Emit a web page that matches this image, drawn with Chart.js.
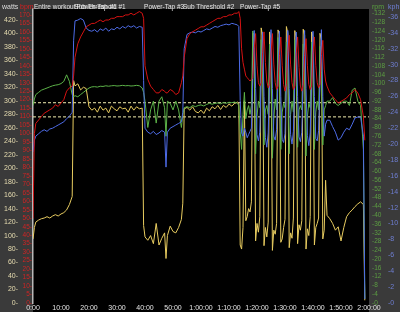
<!DOCTYPE html>
<html>
<head>
<meta charset="utf-8">
<script src="https://cdn.jsdelivr.net/npm/chart.js@4.4.1/dist/chart.umd.min.js"></script>
<style>
  html, body { margin: 0; padding: 0; background: #3a3a3a; }
  #wrap { width: 400px; height: 312px; }
</style>
</head>
<body>
<div id="wrap"><canvas id="ride" width="400" height="312"></canvas></div>
<script>
// time in minutes (finer steps around the efforts and the 1-on / 2-off block)
var minutes = [
  0, 0.5, 1, 2, 3, 4, 5, 6, 7, 8, 9, 10, 11, 12, 13, 14, 14.5,
  15, 16, 17, 18, 19, 20, 21, 22, 23, 24, 25, 26, 27, 28, 29, 30, 31, 32, 33, 34, 35, 36, 37, 38, 39, 39.5,
  40, 41, 42, 43, 44, 45, 46, 47, 47.5, 48, 49, 50, 51, 52, 53, 53.5,
  54, 55, 56, 57, 58, 59, 60, 61, 62, 63, 64, 65, 66, 67, 68, 69, 70, 71, 72, 73, 73.5,
  74, 74.5, 75, 75.5, 76, 76.5, 77, 77.5, 78,
  78.5, 79, 79.5, 80, 80.5, 81,
  81.5, 82, 82.5, 83, 83.5, 84,
  84.5, 85, 85.5, 86, 86.5, 87,
  87.5, 88, 88.5, 89, 89.5, 90,
  90.5, 91, 91.5, 92, 92.5, 93,
  93.5, 94, 94.5, 95, 95.5, 96,
  96.5, 97, 97.5, 98, 98.5, 99,
  99.5, 100, 100.5, 101, 101.5, 102,
  102.5, 103, 103.5, 104, 104.5, 105,
  106, 107, 108, 109, 110, 111, 112, 113, 114, 115, 116, 117, 118, 118.5
];

var watts = [
  95, 112, 120, 123, 125, 126, 128, 126, 129, 131, 129, 132, 134, 138, 146, 158, 330,
  322, 325, 316, 320, 318, 291, 286, 289, 283, 292, 286, 289, 282, 292, 288, 285, 291, 288, 289, 283, 292, 286, 291, 288, 289, 115,
  98, 93, 100, 88, 118, 86, 96, 104, 66, 100, 114, 106, 104, 112, 124, 148,
  288, 290, 286, 291, 284, 282, 286, 281, 289, 285, 291, 288, 293, 287, 293, 290, 295, 292, 296, 298, 296,
  86, 80, 112, 300, 122, 128, 140, 135, 150,
  400, 398, 92, 118, 105, 128,
  408, 396, 85, 112, 98, 120,
  402, 392, 78, 108, 102, 118,
  405, 398, 90, 95, 112, 124,
  410, 400, 82, 104, 96, 126,
  404, 394, 88, 116, 108, 122,
  406, 397, 80, 110, 100, 128,
  402, 395, 86, 112, 118, 126,
  400, 390, 95, 108, 182, 130,
  125, 118, 108, 113, 92, 112, 128, 134, 138, 143, 147, 150, 146, 4
];

var bpm = [
  50, 100, 106, 108, 110, 112, 113, 114, 115, 117, 116, 118, 120, 125, 127, 128, 134,
  145, 153, 157, 160, 163, 164, 165, 165, 166, 167, 166, 167, 167, 168, 168, 169, 169, 169, 170, 170, 171, 170, 171, 172, 171, 168,
  140, 132, 128, 126, 124, 124, 126, 125, 124, 124, 126, 125, 123, 124, 130, 134,
  145, 156, 159, 160, 161, 162, 163, 163, 164, 165, 166, 167, 168, 168, 169, 169, 170, 170, 171, 171, 172,
  168, 150, 142, 138, 134, 133, 132, 131, 132,
  133, 150, 159, 140, 130, 128,
  130, 148, 160, 142, 131, 127,
  129, 147, 159, 141, 130, 126,
  128, 146, 157, 140, 129, 125,
  129, 148, 158, 141, 130, 126,
  128, 147, 157, 139, 128, 125,
  129, 146, 156, 140, 129, 126,
  128, 147, 157, 140, 130, 127,
  129, 146, 155, 138, 131, 128,
  124, 122, 120, 118, 119, 120, 121, 123, 124, 126, 124, 120, 110, 96
];

var kph = [
  19, 20.5, 21, 21.3, 21.6, 21.8, 21.6, 21.9, 22, 22.2, 22.4, 22.6, 22.8, 23.2, 23.5, 24, 33,
  35.5, 35.6, 35.8, 35.6, 34.6, 34.3, 34.2, 34.4, 34.1, 34.5, 34.3, 34.6, 34.2, 34.5, 34.4, 34.7, 34.5, 34.8, 34.6, 34.9, 34.7, 34.9, 34.6, 34.8, 34.7, 28,
  22, 21.5, 21.3, 21.6, 21.2, 21.4, 21.7, 21.5, 17.1, 21.5, 22, 22.2, 22.4, 22.6, 22.8, 24,
  32, 33.8, 34, 34.1, 34, 34.2, 34.1, 34.3, 34.5, 34.4, 34.6, 34.8, 34.7, 34.9, 35, 35.1, 35, 35.2, 35.1, 35, 34.8,
  25.5, 21.4, 21, 22, 21.5, 20.8, 21.2, 21.6, 22,
  28, 34.3, 27, 21.2, 20.4, 21.5,
  29, 34.1, 26, 20.8, 19.6, 21.4,
  28, 34.4, 27, 21, 20.5, 21.8,
  29, 34.2, 26, 20.6, 20.2, 21.3,
  28, 34.3, 27, 21.2, 20, 21.6,
  28, 34.1, 26, 20.9, 20.3, 21.5,
  29, 34.3, 27, 21.1, 19.8, 21.4,
  28, 34.2, 26, 20.7, 20.4, 21.7,
  28, 34.4, 26, 21, 22.5, 23,
  23, 22.2, 21.5, 20.5, 20.8, 21.5, 22, 21.8, 22.5, 23.3, 23.4, 23.4, 21, 0.5
];

var rpm = [
  90, 93, 95, 96, 97, 97.5, 98, 98.5, 99, 99.3, 99.5, 100, 101, 104, 101, 95, 94,
  94.5, 94, 95, 96, 97, 98, 98.5, 98.6, 98.4, 98.8, 98.7, 99, 98.8, 99, 99.1, 98.9, 99, 99.2, 99, 99.1, 98.9, 99, 99.2, 99, 98, 96,
  92, 80, 88, 92, 82, 92, 94, 89, 76, 92, 91, 88, 92, 88, 80, 86,
  89, 89.5, 89, 90, 89.5, 90, 90.3, 89.8, 90.5, 91, 90.6, 91, 91.2, 90.8, 91.4, 91, 91.5, 91.3, 91.6, 91, 90,
  78, 70, 86, 96, 84, 88, 90, 86, 90,
  124, 112, 68, 85, 92, 89,
  120, 108, 72, 88, 90, 86,
  118, 110, 66, 84, 93, 88,
  121, 107, 70, 87, 91, 89,
  119, 109, 68, 86, 92, 87,
  120, 108, 71, 88, 90, 88,
  118, 110, 67, 85, 91, 89,
  119, 106, 70, 87, 92, 88,
  117, 105, 72, 88, 90, 92,
  92, 93.6, 91, 90, 91, 92, 92, 90, 97, 98, 92, 90, 70, 2
];

// dashed reference lines (watts)
var refWatts = [297, 276];

// interval markers along the top
var intervalNames = ['Entire workout', 'Sub Threshold #1', 'Power-Tap #1', 'Power-Tap #3', 'Sub Threshold #2', 'Power-Tap #5'];
var intervalStarts = [0, 14.4, 15.2, 39.3, 53.2, 73.6];

// tick labels
var timeTicks = [0, 10, 20, 30, 40, 50, 60, 70, 80, 90, 100, 110, 120];
var timeLabels = ['0:00', '10:00', '20:00', '30:00', '40:00', '50:00', '1:00:00', '1:10:00', '1:20:00', '1:30:00', '1:40:00', '1:50:00', '2:00:00'];
var wattsTicks = [0, 20, 40, 60, 80, 100, 120, 140, 160, 180, 200, 220, 240, 260, 280, 300, 320, 340, 360, 380, 400, 420];
var bpmTicks = [0, 5, 10, 15, 20, 25, 30, 35, 40, 45, 50, 55, 60, 65, 70, 75, 80, 85, 90, 95, 100, 105, 110, 115, 120, 125, 130, 135, 140, 145, 150, 155, 160, 165, 170];
var rpmTicks = [0, 4, 8, 12, 16, 20, 24, 28, 32, 36, 40, 44, 48, 52, 56, 60, 64, 68, 72, 76, 80, 84, 88, 92, 96, 100, 104, 108, 112, 116, 120, 124, 128, 132];
var kphTicks = [0, 2, 4, 6, 8, 10, 12, 14, 16, 18, 20, 22, 24, 26, 28, 30, 32, 34, 36];

var FONT = '"Liberation Sans", Arial, sans-serif';

function pts(arr) {
  return minutes.map(function (t, i) { return { x: t, y: arr[i] }; });
}
function flat(v) {
  return [{ x: 0, y: v }, { x: 120, y: v }];
}
function setTicks(list) {
  return function (s) { s.ticks = list.map(function (v) { return { value: v }; }); };
}

var panels = {
  id: 'panels',
  beforeDraw: function (chart) {
    var c = chart.ctx, a = chart.chartArea;
    c.save();
    c.fillStyle = '#3a3a3a';
    c.fillRect(0, 0, chart.width, chart.height);
    c.fillStyle = '#000';
    c.fillRect(a.left, a.top, a.right - a.left, chart.height - a.top);
    c.restore();
  },
  afterDraw: function (chart) {
    var c = chart.ctx, xs = chart.scales.x;
    c.save();
    c.font = '6.5px ' + FONT;
    c.textBaseline = 'alphabetic';
    c.textAlign = 'left';
    c.fillStyle = '#e8e8e8';
    intervalNames.forEach(function (n, i) {
      c.fillText(n, xs.getPixelForValue(intervalStarts[i]) + 1, 8.5);
    });
    c.font = '7px ' + FONT;
    c.fillStyle = '#dddddd'; c.fillText('watts', 2, 8.5);
    c.fillStyle = '#d42020'; c.fillText('bpm', 20, 8.5);
    c.fillStyle = '#5aa040'; c.fillText('rpm', 372, 8.5);
    c.fillStyle = '#6f7fd6'; c.fillText('kph', 388, 8.5);
    c.restore();
  }
};

function yAxis(pos, weight, max, ticks, color, width, fmt, pad, size) {
  return {
    position: pos, weight: weight, min: 0, max: max,
    afterBuildTicks: setTicks(ticks),
    afterFit: function (s) { s.width = width; },
    grid: { display: false, drawTicks: false },
    border: { display: false },
    ticks: { color: color, autoSkip: false, padding: pad, font: { size: size, family: FONT }, callback: fmt }
  };
}

var scales = {
  x: {
    type: 'linear', min: 0, max: 120,
    afterBuildTicks: setTicks(timeTicks),
    afterFit: function (s) { s.height = 9; },
    grid: { display: false, drawTicks: false },
    border: { display: false },
    ticks: {
      color: '#e4e4e4', autoSkip: false, maxRotation: 0, padding: 1,
      font: { size: 7, family: FONT },
      callback: function (v, i) { return timeLabels[i]; }
    }
  },
  watts: yAxis('left', 2, 436, wattsTicks, '#e6dcb0', 20, function (v) { return v + '-'; }, 2, 7),
  bpm: yAxis('left', 1, 173.5, bpmTicks, '#d02424', 13, function (v) { return v + '-'; }, 1, 6.5),
  rpm: yAxis('right', 1, 134, rpmTicks, '#5c9e42', 16, function (v) { return '-' + v; }, 3, 6.5),
  kph: yAxis('right', 2, 37, kphTicks, '#6e7ed2', 15, function (v) { return '-' + v; }, 3, 7)
};
scales.bpm.border = { display: true, color: '#b8b8b8', width: 1.5 };

function line(label, data, axis, color, order) {
  return { label: label, data: data, yAxisID: axis, borderColor: color, borderWidth: 1,
           pointRadius: 0, tension: 0, fill: false, order: order };
}

var datasets = [
  line('bpm', pts(bpm), 'bpm', 'rgb(214,18,18)', 0),
  line('kph', pts(kph), 'kph', 'rgb(78,108,232)', 1),
  line('rpm', pts(rpm), 'rpm', 'rgb(92,178,72)', 2),
  line('watts', pts(watts), 'watts', 'rgb(232,204,96)', 3)
];
refWatts.forEach(function (v) {
  var d = line('ref', flat(v), 'watts', '#f2eeb0', 4);
  d.borderDash = [3, 2];
  datasets.push(d);
});

var ride = new Chart(document.getElementById('ride').getContext('2d'), {
  type: 'line',
  data: { datasets: datasets },
  options: {
    responsive: false,
    animation: false,
    layout: { padding: { top: 9, left: 0, right: 0, bottom: 0 } },
    plugins: { legend: { display: false }, tooltip: { enabled: false } },
    scales: scales
  },
  plugins: [panels]
});
</script>
</body>
</html>
